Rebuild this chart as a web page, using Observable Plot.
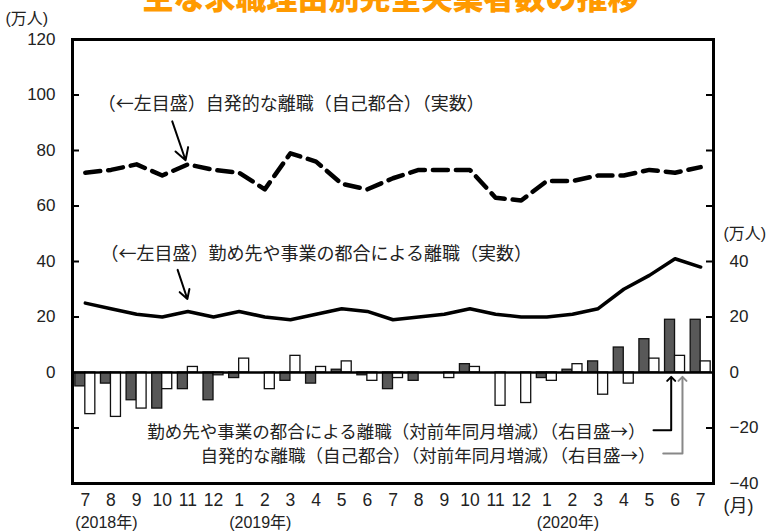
<!DOCTYPE html>
<html><head><meta charset="utf-8">
<script src="https://cdn.jsdelivr.net/npm/d3@7"></script>
<script src="https://cdn.jsdelivr.net/npm/@observablehq/plot@0.6"></script>
<style>
html,body{margin:0;padding:0;background:#fff;}
#wrap{position:relative;width:781px;height:531px;overflow:hidden;}
#title{position:absolute;left:0;top:-20px;width:781px;text-align:center;font-family:"Noto Sans CJK JP";font-weight:900;font-size:31px;line-height:31px;color:#FF9A00;white-space:nowrap;}
#chart{position:absolute;left:0;top:0;}
</style></head><body>
<div id="wrap"><div id="chart"></div><div id="title">主な求職理由別完全失業者数の推移</div></div>
<script>
// Months (2018-07 .. 2020-07)
const monthLabels = ["7","8","9","10","11","12","1","2","3","4","5","6","7","8","9","10","11","12","1","2","3","4","5","6","7"];
const yearLabels = ["(2018年)", "(2019年)", "(2020年)"];
const yearStartIndex = [0, 6, 18];
// Levels (左目盛, 万人)
const voluntaryLevel = [72,73,75,71,75,73,72,66,79,76,68,66,70,73,73,73,63,62,69,69,71,71,73,72,74];
const companyLevel   = [25,23,21,20,22,20,22,20,19,21,23,22,19,20,21,23,21,20,20,21,23,30,35,41,38];
// Year-on-year change (右目盛, 万人)
const companyChange   = [-5,-4,-10,-13,-6,-10,-2,0,-3,-4,1,-1,-6,-3,0,3,0,0,-2,1,4,9,12,19,19];
const voluntaryChange = [-15,-16,-13,-6,2,-1,5,-6,6,2,4,-3,-2,0,-2,2,-12,-11,-3,3,-8,-4,5,6,4];
const leftTicks = [0,20,40,60,80,100,120];
const rightTicks = [-40,-20,0,20,40];
const innerTicks = [-20,20,40,60,80,100];

const n = monthLabels.length;
const rows = monthLabels.map((lab,i)=>({i, lab, vol:voluntaryLevel[i], com:companyLevel[i], comChg:companyChange[i], volChg:voluntaryChange[i]}));
const W=781, H=531, ML=72, MR=68, MT=39, MB=48;
const band = (W-ML-MR)/n;
const barW = 10;
const jp = '"Noto Sans CJK JP", sans-serif';
const c = (v)=>()=>v;

const chart = Plot.plot({
  width:W, height:H, marginLeft:ML, marginRight:MR, marginTop:MT, marginBottom:MB,
  style:{fontFamily:'"Liberation Sans","Noto Sans CJK JP",sans-serif', fontSize:"17px", color:"#222", background:"#fff", overflow:"visible"},
  x:{domain:[0,n], axis:null},
  y:{domain:[-40,120], axis:null},
  marks:[
    Plot.rect(rows,{x1:"i", x2:d=>d.i+1, y1:()=>0, y2:"comChg", fill:"#585858", stroke:"#111", strokeWidth:1.3, insetLeft: band/2-barW, insetRight: band/2}),
    Plot.rect(rows,{x1:"i", x2:d=>d.i+1, y1:()=>0, y2:"volChg", fill:"#fff", stroke:"#111", strokeWidth:1.3, insetLeft: band/2, insetRight: band/2-barW}),
    Plot.ruleY([0],{stroke:"#000", strokeWidth:2.5}),
    Plot.line(rows,{x:d=>d.i+0.5, y:"com", stroke:"#000", strokeWidth:3.5}),
    Plot.line(rows,{x:d=>d.i+0.5, y:"vol", stroke:"#000", strokeWidth:4.5, strokeDasharray:"15,8"}),
    Plot.tickY(innerTicks,{stroke:"#000", strokeWidth:2, insetRight: W-ML-MR-7}),
    Plot.tickY(innerTicks,{stroke:"#000", strokeWidth:2, insetLeft: W-ML-MR-7}),
    Plot.frame({stroke:"#000", strokeWidth:3}),
    Plot.axisY(leftTicks,{anchor:"left", tickSize:0, tickPadding:17, label:null}),
    Plot.axisY(rightTicks,{anchor:"right", tickSize:0, tickPadding:16, label:null}),
    Plot.axisX(d3.range(n).map(i=>i+0.5),{anchor:"bottom", tickSize:0, tickPadding:10, fontSize:17.5, label:null, tickFormat:d=>monthLabels[Math.floor(d)]}),
    Plot.text(yearLabels,{x:(d,j)=>yearStartIndex[j]+0.5, y:c(-54.2), text:d=>d, textAnchor:"start", dx:-10, fontSize:16}),
    Plot.text(["(月)"],{x:c(n), y:c(-48.3), textAnchor:"start", dx:10, fontSize:18}),
    Plot.text(["(万人)"],{x:c(0), y:c(127.4), textAnchor:"start", dx:-67, fontSize:16}),
    Plot.text(["(万人)"],{x:c(n), y:c(50), textAnchor:"start", dx:10, fontSize:16}),
    Plot.text(["（←左目盛）自発的な離職（自己都合）（実数）"],{x:c(0.98), y:c(96.6), textAnchor:"start", fontFamily:jp, fontSize:18, fill:"#222"}),
    Plot.text(["（←左目盛）勤め先や事業の都合による離職（実数）"],{x:c(1.09), y:c(42.5), textAnchor:"start", fontFamily:jp, fontSize:18, fill:"#222"}),
    Plot.text(["勤め先や事業の都合による離職（対前年同月増減）（右目盛→）"],{x:c(22.35), y:c(-21.6), textAnchor:"end", fontFamily:jp, fontSize:17.5, fill:"#222"}),
    Plot.text(["自発的な離職（自己都合）（対前年同月増減）（右目盛→）"],{x:c(22.74), y:c(-30.4), textAnchor:"end", fontFamily:jp, fontSize:17.5, fill:"#222"}),
    Plot.arrow([0],{x1:c(3.89), y1:c(90.5), x2:c(4.41), y2:c(76.5), stroke:"#000", strokeWidth:2, headLength:10}),
    Plot.arrow([0],{x1:c(4.1), y1:c(37), x2:c(4.48), y2:c(26.5), stroke:"#000", strokeWidth:2, headLength:10}),
    Plot.line([{x:22.66,y:-20.8},{x:23.35,y:-20.8},{x:23.35,y:-2.3}],{x:"x", y:"y", stroke:"#000", strokeWidth:2, markerEnd:"arrow"}),
    Plot.line([{x:23.04,y:-29.2},{x:23.79,y:-29.2},{x:23.79,y:-2.3}],{x:"x", y:"y", stroke:"#888", strokeWidth:2, markerEnd:"arrow"})
  ]
});
document.getElementById("chart").appendChild(chart);
</script>
</body></html>
